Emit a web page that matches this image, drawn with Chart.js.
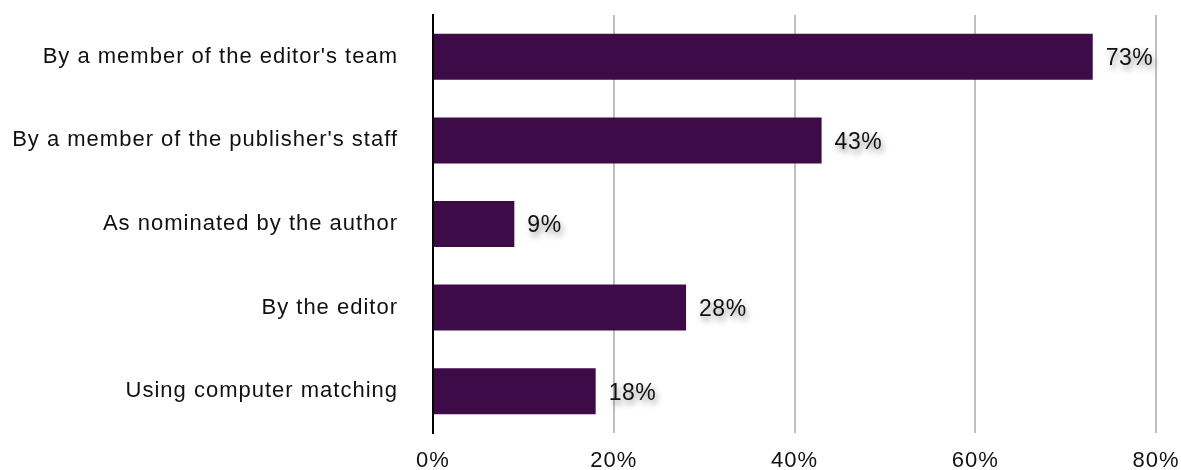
<!DOCTYPE html>
<html>
<head>
<meta charset="utf-8">
<script src="https://cdn.jsdelivr.net/npm/chart.js@4/dist/chart.umd.min.js"></script>
<style>
  body { margin: 0; background: #fff; }
  #wrap { width: 1181px; height: 470px; position: relative; }
</style>
</head>
<body>
<div id="wrap"><canvas id="reviewerChart"></canvas></div>
<script>
// how reviewers get chosen, share of respondents (%)
const methods = [
    "By a member of the editor's team",
    "By a member of the publisher's staff",
    "As nominated by the author",
    "By the editor",
    "Using computer matching"
];
const shares = [73, 43, 9, 28, 18];
const xTicks = [0, 20, 40, 60, 80];

const FONT = "'Liberation Sans', Helvetica, Arial, sans-serif";

// slightly wider tracking, closer to Helvetica Neue
const tracking = {
    id: 'tracking',
    beforeDraw(chart) {
        chart.ctx.letterSpacing = '1px';
    }
};

// percent labels to the right of each bar, with a soft drop shadow
const valueLabels = {
    id: 'valueLabels',
    afterDatasetsDraw(chart) {
        const ctx = chart.ctx;
        const meta = chart.getDatasetMeta(0);
        ctx.save();
        ctx.font = '23px ' + FONT;
        ctx.letterSpacing = '0.5px';
        ctx.fillStyle = '#111';
        ctx.textAlign = 'left';
        ctx.textBaseline = 'middle';
        ctx.shadowColor = 'rgba(0, 0, 0, 0.45)';
        ctx.shadowBlur = 6;
        ctx.shadowOffsetX = 2;
        ctx.shadowOffsetY = 4;
        meta.data.forEach(function (bar, i) {
            ctx.fillText(shares[i] + '%', bar.x + 13, bar.y + 2);
        });
        ctx.restore();
    }
};

document.addEventListener("DOMContentLoaded", function () {
    const ctx = document.getElementById('reviewerChart').getContext('2d');

    new Chart(ctx, {
        type: 'bar',
        data: {
            labels: methods,
            datasets: [{
                data: shares,
                backgroundColor: '#3d0c48',
                borderWidth: 0,
                barPercentage: 0.55,
                categoryPercentage: 1
            }]
        },
        options: {
            indexAxis: 'y',
            responsive: true,
            maintainAspectRatio: false,
            animation: false,
            layout: { padding: { top: 15, right: 25, left: 0, bottom: 0 } },
            plugins: {
                legend: { display: false },
                tooltip: { enabled: false }
            },
            scales: {
                x: {
                    min: 0,
                    max: 80,
                    afterBuildTicks: function (scale) {
                        scale.ticks = xTicks.map(v => ({ value: v }));
                    },
                    afterFit: function (scale) {
                        scale.height = 37;
                        scale.paddingLeft = 0;
                        scale.paddingRight = 0;
                    },
                    ticks: {
                        color: '#111',
                        font: { family: FONT, size: 22 },
                        padding: 15,
                        callback: v => v + '%'
                    },
                    grid: { color: '#bfbfbf', lineWidth: 2, drawTicks: false },
                    border: { display: false }
                },
                y: {
                    afterFit: function (scale) {
                        scale.width = 433;
                        scale.paddingTop = 0;
                        scale.paddingBottom = 0;
                    },
                    ticks: {
                        color: '#111',
                        font: { family: FONT, size: 22 },
                        padding: 35
                    },
                    grid: { display: false, drawTicks: false },
                    border: { display: true, color: '#000', width: 2 }
                }
            }
        },
        plugins: [tracking, valueLabels]
    });
});
</script>
</body>
</html>
